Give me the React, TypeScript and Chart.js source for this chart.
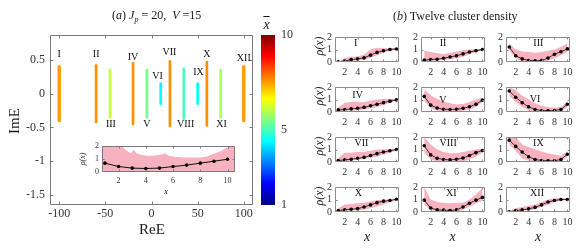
import React, { useEffect, useRef } from 'react';
import { Chart, registerables } from 'chart.js';

Chart.register(...registerables);

const SERIF = "'Liberation Serif', 'Times New Roman', serif";
const PINK = '#F7B1BF';
const AXIS_GRAY = '#7a7a7a';
const SUB_GRAY = '#8c8c8c';
const TICK_TEXT = '#333333';

// ---------------- Panel (a): spectrum clusters ----------------
const clusterNames = ['I', 'II', 'III', 'IV', 'V', 'VI', 'VII', 'VIII', 'IX', 'X', 'XI', 'XII'];
const clusterRe = [-100, -60, -45, -20, -5, 10, 20, 35, 50, 60, 75, 100];
const clusterHalfIm = [0.4, 0.42, 0.35, 0.45, 0.35, 0.15, 0.48, 0.37, 0.15, 0.47, 0.35, 0.4];
const clusterMeanX = [7.5, 7.6, 6.1, 7.6, 5.4, 4.4, 7.6, 5.0, 4.4, 7.6, 5.9, 7.5];
const labelRe = [-100, -60, -44, -20, -5, 6.5, 19.5, 37, 51, 60, 76, 100];
const labelIm = [0.58, 0.58, -0.45, 0.54, -0.45, 0.25, 0.61, -0.45, 0.31, 0.58, -0.45, 0.53];
const mainXTicks = [-100, -50, 0, 50, 100];
const mainYTicks = [0.5, 0, -0.5, -1, -1.5];
const colorbarTicks = [1, 5, 10];

// inset of panel (a)
const sitesX = [1, 2, 3, 4, 5, 6, 7, 8, 9, 10];
const insetRho = [0.68, 0.42, 0.3, 0.27, 0.3, 0.42, 0.53, 0.68, 0.83, 0.98];
const insetBandX = [0.78, 2.2, 2.5, 2.9, 3.1, 3.3, 3.6, 4.0, 4.5, 5.0, 5.4, 5.7, 6.2, 7, 8, 8.5, 9, 9.5, 10, 10.55];
const insetBandUpper = [2.1, 2.1, 1.7, 1.45, 1.7, 1.45, 1.35, 1.25, 1.25, 1.3, 1.45, 1.25, 1.15, 1.12, 1.12, 1.2, 1.4, 1.6, 1.9, 2.1];
const insetXTicks = [2, 4, 6, 8, 10];
const insetYTicks = [0, 1, 2];

// ---------------- Panel (b): twelve cluster densities ----------------
const rhoI = [0.02, 0.08, 0.19, 0.25, 0.33, 0.55, 0.77, 0.9, 1.0, 1.04];
const hiI = [0.05, 0.3, 0.42, 0.45, 0.6, 1.0, 1.15, 1.1, 1.1, 1.1];
const loI = [0, 0.03, 0.08, 0.12, 0.2, 0.35, 0.55, 0.75, 0.9, 0.98];

const rhoII = [0.15, 0.2, 0.22, 0.3, 0.4, 0.5, 0.65, 0.8, 0.9, 1.0];
const hiII = [0.9, 0.8, 0.7, 0.65, 0.72, 0.85, 0.95, 1.0, 1.05, 1.05];
const loII = [0.05, 0.08, 0.12, 0.18, 0.22, 0.3, 0.42, 0.6, 0.8, 0.95];

const rhoIII = [1.2, 0.5, 0.25, 0.12, 0.1, 0.12, 0.32, 0.62, 0.82, 1.05];
const hiIII = [1.5, 1.0, 0.85, 0.8, 0.75, 0.8, 0.9, 1.0, 1.2, 1.5];
const loIII = [0.95, 0.3, 0.05, 0, 0, 0, 0.1, 0.3, 0.55, 0.8];

const rhoIV = [0.17, 0.2, 0.25, 0.3, 0.37, 0.5, 0.62, 0.75, 0.87, 0.97];
const hiIV = [0.35, 0.75, 0.8, 0.8, 0.8, 0.9, 1.0, 1.05, 1.05, 1.05];
const loIV = [0.05, 0.1, 0.12, 0.15, 0.2, 0.3, 0.4, 0.55, 0.75, 0.9];

const rhoV = [1.25, 0.55, 0.32, 0.22, 0.2, 0.22, 0.3, 0.42, 0.62, 0.95];
const hiV = [1.8, 1.35, 1.05, 0.85, 0.7, 0.6, 0.65, 0.8, 1.0, 1.1];
const loV = [0.9, 0.3, 0.1, 0.05, 0.05, 0.05, 0.1, 0.2, 0.4, 0.8];

const rhoVI = [1.68, 1.18, 0.75, 0.42, 0.2, 0.12, 0.1, 0.12, 0.2, 0.62];
const hiVI = [2.0, 1.75, 1.3, 1.0, 0.7, 0.5, 0.4, 0.35, 0.4, 0.85];
const loVI = [1.3, 0.8, 0.4, 0.15, 0.05, 0, 0, 0, 0.05, 0.4];

const rhoVII = [0.12, 0.17, 0.22, 0.3, 0.37, 0.52, 0.67, 0.8, 0.9, 1.0];
const hiVII = [0.3, 0.75, 0.75, 0.8, 0.8, 0.9, 1.0, 1.0, 1.05, 1.05];
const loVII = [0.05, 0.08, 0.12, 0.18, 0.25, 0.35, 0.45, 0.6, 0.75, 0.92];

const rhoVIII = [1.3, 0.57, 0.3, 0.2, 0.17, 0.22, 0.32, 0.52, 0.75, 0.92];
const hiVIII = [2.0, 1.4, 1.0, 0.8, 0.7, 0.7, 0.8, 0.9, 1.0, 1.05];
const loVIII = [0.8, 0.2, 0.05, 0, 0, 0, 0.05, 0.2, 0.45, 0.75];

const rhoIX = [1.75, 1.25, 0.8, 0.42, 0.2, 0.12, 0.1, 0.1, 0.2, 0.62];
const hiIX = [2.0, 2.0, 1.4, 1.2, 1.0, 0.85, 0.7, 0.6, 0.5, 0.85];
const loIX = [1.4, 0.9, 0.3, 0.1, 0, 0, 0, 0, 0.05, 0.4];

const rhoX = [0.12, 0.17, 0.22, 0.27, 0.4, 0.57, 0.75, 0.87, 0.92, 1.02];
const hiX = [0.3, 0.6, 0.65, 0.7, 0.75, 0.85, 0.95, 1.0, 1.0, 1.05];
const loX = [0.05, 0.1, 0.12, 0.15, 0.2, 0.3, 0.45, 0.6, 0.8, 0.95];

const rhoXI = [0.95, 0.32, 0.17, 0.15, 0.12, 0.17, 0.4, 0.7, 0.95, 1.17];
const hiXI = [2.0, 1.0, 0.8, 0.75, 0.7, 0.75, 0.75, 1.0, 1.4, 1.9];
const loXI = [0.6, 0.15, 0.05, 0, 0, 0, 0.2, 0.45, 0.7, 0.9];

const rhoXII = [0.02, 0.12, 0.17, 0.25, 0.37, 0.57, 0.8, 0.92, 1.0, 1.0];
const hiXII = [0.05, 0.3, 0.4, 0.5, 0.6, 0.8, 1.0, 1.1, 1.1, 1.1];
const loXII = [0, 0.05, 0.1, 0.15, 0.25, 0.4, 0.6, 0.8, 0.9, 0.95];

const panelRho = [rhoI, rhoII, rhoIII, rhoIV, rhoV, rhoVI, rhoVII, rhoVIII, rhoIX, rhoX, rhoXI, rhoXII];
const panelHi = [hiI, hiII, hiIII, hiIV, hiV, hiVI, hiVII, hiVIII, hiIX, hiX, hiXI, hiXII];
const panelLo = [loI, loII, loIII, loIV, loV, loVI, loVII, loVIII, loIX, loX, loXI, loXII];
const panelLabelX = [3.7, 3.9, 5.5, 4.0, 3.9, 5.0, 4.6, 4.7, 5.5, 4.1, 5.2, 5.3];
const panelLabelY = [1.5, 1.5, 1.5, 1.3, 0.93, 1.05, 1.5, 1.5, 1.5, 1.5, 1.5, 1.5];
const subXTicks = [2, 4, 6, 8, 10];
const subYTicks = [0, 1, 2];

// layout of panel (b)
const colLeft = [335, 420.5, 506];
const rowTop = [34, 84, 134, 184];
const SUB_W = 64;
const SUB_H = 28;

// ---------------- helpers ----------------
function clamp01(v: number) {
  return Math.max(0, Math.min(1, v));
}
function jet(v: number, min = 1, max = 10) {
  const t = clamp01((v - min) / (max - min));
  const r = clamp01(1.5 - Math.abs(4 * t - 3));
  const g = clamp01(1.5 - Math.abs(4 * t - 2));
  const b = clamp01(1.5 - Math.abs(4 * t - 1));
  return `rgb(${Math.round(r * 255)},${Math.round(g * 255)},${Math.round(b * 255)})`;
}

function boxPlugin(color: string, tickLen: number) {
  return {
    id: 'matlabBox',
    afterDatasetsDraw(chart: any) {
      const { ctx, chartArea: a, scales } = chart;
      const xs = scales.x;
      const ys = scales.y;
      const l = Math.round(a.left) + 0.5;
      const r = Math.round(a.right) - 0.5;
      const t = Math.round(a.top) + 0.5;
      const b = Math.round(a.bottom) - 0.5;
      ctx.save();
      ctx.strokeStyle = color;
      ctx.lineWidth = 1;
      ctx.beginPath();
      ctx.rect(l, t, r - l, b - t);
      if (tickLen > 0) {
        xs.ticks.forEach((tk: any) => {
          const p = Math.round(xs.getPixelForValue(tk.value)) + 0.5;
          if (p <= l + 1 || p >= r - 1) return;
          ctx.moveTo(p, b);
          ctx.lineTo(p, b - tickLen);
          ctx.moveTo(p, t);
          ctx.lineTo(p, t + tickLen);
        });
        ys.ticks.forEach((tk: any) => {
          const p = Math.round(ys.getPixelForValue(tk.value)) + 0.5;
          if (p <= t + 1 || p >= b - 1) return;
          ctx.moveTo(l, p);
          ctx.lineTo(l + tickLen, p);
          ctx.moveTo(r, p);
          ctx.lineTo(r - tickLen, p);
        });
      }
      ctx.stroke();
      ctx.restore();
    },
  };
}

function labelPlugin(items: { text: string; x: number; y: number }[], font: string, color: string) {
  return {
    id: 'textLabels',
    afterDatasetsDraw(chart: any) {
      const { ctx, scales } = chart;
      ctx.save();
      ctx.font = font;
      ctx.fillStyle = color;
      ctx.textAlign = 'center';
      ctx.textBaseline = 'middle';
      items.forEach((it) => {
        ctx.fillText(it.text, scales.x.getPixelForValue(it.x), scales.y.getPixelForValue(it.y));
      });
      ctx.restore();
    },
  };
}

function fixedTicks(values: number[]) {
  return (scale: any) => {
    scale.ticks = values.map((v) => ({ value: v }));
  };
}

function linearAxis(opts: {
  min: number;
  max: number;
  ticks: number[];
  size: number;
  fontSize: number;
  padding: number;
  horizontal: boolean;
  position?: string;
}) {
  return {
    type: 'linear',
    position: opts.position,
    min: opts.min,
    max: opts.max,
    grid: { display: false, drawTicks: false },
    border: { display: false },
    afterBuildTicks: fixedTicks(opts.ticks),
    afterFit: (s: any) => {
      if (opts.horizontal) s.height = opts.size;
      else s.width = opts.size;
    },
    ticks: {
      autoSkip: false,
      maxRotation: 0,
      minRotation: 0,
      padding: opts.padding,
      color: TICK_TEXT,
      font: { family: SERIF, size: opts.fontSize },
      callback: (v: any) => String(v),
    },
  };
}

const baseOptions = {
  animation: false,
  responsive: false,
  maintainAspectRatio: false,
  events: [],
  plugins: { legend: { display: false }, tooltip: { enabled: false }, title: { display: false } },
};

// ---------------- chart configs ----------------
function mainConfig() {
  return {
    type: 'line',
    data: {
      datasets: clusterRe.map((re, i) => ({
        data: [
          { x: re, y: -clusterHalfIm[i] },
          { x: re, y: clusterHalfIm[i] },
        ],
        borderColor: jet(clusterMeanX[i]),
        borderWidth: i === 0 || i === 11 ? 3.4 : 2.7,
        borderCapStyle: 'round',
        pointRadius: 0,
        fill: false,
      })),
    },
    options: {
      ...baseOptions,
      layout: { padding: { top: 35, right: 7, left: 0, bottom: 0 } },
      scales: {
        x: linearAxis({ min: -110, max: 110, ticks: mainXTicks, size: 43, fontSize: 12, padding: 2, horizontal: true }),
        y: linearAxis({ min: -1.65, max: 0.87, ticks: mainYTicks, size: 50, fontSize: 12, padding: 5, horizontal: false }),
      },
    },
    plugins: [
      boxPlugin(AXIS_GRAY, 3),
      labelPlugin(
        clusterNames.map((n, i) => ({ text: n, x: labelRe[i], y: labelIm[i] })),
        `10px ${SERIF}`,
        '#111'
      ),
    ],
  };
}

function insetConfig() {
  return {
    type: 'line',
    data: {
      datasets: [
        {
          data: sitesX.map((x, i) => ({ x, y: insetRho[i] })),
          borderColor: '#111',
          borderWidth: 1,
          pointRadius: 1.8,
          pointBackgroundColor: '#000',
          pointBorderWidth: 0,
          fill: false,
          order: 0,
        },
        {
          data: insetBandX.map((x, i) => ({ x, y: insetBandUpper[i] })),
          borderWidth: 0,
          pointRadius: 0,
          backgroundColor: PINK,
          fill: 'origin',
          order: 1,
        },
      ],
    },
    options: {
      ...baseOptions,
      layout: { padding: { top: 8, right: 10, left: 0, bottom: 0 } },
      scales: {
        x: linearAxis({ min: 0.78, max: 10.55, ticks: insetXTicks, size: 26, fontSize: 8, padding: 4, horizontal: true }),
        y: linearAxis({ min: 0, max: 2, ticks: insetYTicks, size: 24, fontSize: 8, padding: 3, horizontal: false }),
      },
    },
    plugins: [boxPlugin(AXIS_GRAY, 2)],
  };
}

function colorbarConfig() {
  return {
    type: 'bar',
    data: {
      labels: ['x'],
      datasets: [
        {
          data: [[1, 10]],
          borderWidth: 0,
          barPercentage: 1,
          categoryPercentage: 1,
          backgroundColor: (ctx: any) => {
            const ch = ctx.chart;
            const a = ch.chartArea;
            if (!a) return '#000';
            const g = ch.ctx.createLinearGradient(0, a.bottom, 0, a.top);
            for (let i = 0; i <= 32; i++) g.addColorStop(i / 32, jet(1 + (9 * i) / 32));
            return g;
          },
        },
      ],
    },
    options: {
      ...baseOptions,
      layout: { padding: { top: 15, bottom: 15, left: 6, right: 0 } },
      scales: {
        x: { display: false },
        y: linearAxis({ min: 1, max: 10, ticks: colorbarTicks, size: 30, fontSize: 12, padding: 6, horizontal: false, position: 'right' }),
      },
    },
  };
}

function subConfig(k: number) {
  return {
    type: 'line',
    data: {
      datasets: [
        {
          data: sitesX.map((x, i) => ({ x, y: panelLo[k][i] })),
          borderWidth: 0,
          pointRadius: 0,
          fill: false,
          order: 2,
        },
        {
          data: sitesX.map((x, i) => ({ x, y: panelHi[k][i] })),
          borderWidth: 0,
          pointRadius: 0,
          backgroundColor: PINK,
          fill: '-1',
          order: 1,
        },
        {
          data: sitesX.map((x, i) => ({ x, y: panelRho[k][i] })),
          borderColor: '#111',
          borderWidth: 0.8,
          pointRadius: 1.8,
          pointBackgroundColor: '#000',
          pointBorderWidth: 0,
          fill: false,
          order: 0,
        },
      ],
    },
    options: {
      ...baseOptions,
      layout: { padding: { top: 6, right: 8, left: 0, bottom: 0 } },
      scales: {
        x: linearAxis({ min: 0.5, max: 10.4, ticks: subXTicks, size: 16, fontSize: 10, padding: 4, horizontal: true }),
        y: linearAxis({ min: 0, max: 2, ticks: subYTicks, size: 20, fontSize: 10, padding: 3, horizontal: false }),
      },
    },
    plugins: [
      boxPlugin(SUB_GRAY, 2),
      labelPlugin([{ text: clusterNames[k], x: panelLabelX[k], y: panelLabelY[k] }], `10px ${SERIF}`, '#111'),
    ],
  };
}

// ---------------- components ----------------
function ChartCanvas(props: { left: number; top: number; width: number; height: number; make: () => any }) {
  const ref = useRef<HTMLCanvasElement | null>(null);
  useEffect(() => {
    const chart = new Chart(ref.current as HTMLCanvasElement, props.make());
    return () => chart.destroy();
  }, []);
  return (
    <canvas
      ref={ref}
      width={props.width}
      height={props.height}
      style={{ position: 'absolute', left: props.left, top: props.top, width: props.width, height: props.height }}
    />
  );
}

function Txt(props: { x: number; y: number; size: number; rotate?: boolean; italic?: boolean; children: any }) {
  return (
    <div
      style={{
        position: 'absolute',
        left: props.x,
        top: props.y,
        transform: `translate(-50%, -50%)${props.rotate ? ' rotate(-90deg)' : ''}`,
        fontSize: props.size,
        fontStyle: props.italic ? 'italic' : 'normal',
        lineHeight: 1,
        whiteSpace: 'nowrap',
        color: '#1a1a1a',
      }}
    >
      {props.children}
    </div>
  );
}

export default function App() {
  const subs = [];
  for (let k = 0; k < 12; k++) {
    const r = Math.floor(k / 3);
    const c = k % 3;
    subs.push(
      <ChartCanvas
        key={k}
        left={colLeft[c] - 20}
        top={rowTop[r] - 6}
        width={SUB_W + 28}
        height={SUB_H + 22}
        make={() => subConfig(k)}
      />
    );
  }
  return (
    <div
      style={{
        position: 'fixed',
        left: 0,
        top: 0,
        width: 581,
        height: 248,
        background: '#fff',
        overflow: 'hidden',
        fontFamily: SERIF,
      }}
    >
      <ChartCanvas left={0} top={0} width={260} height={248} make={mainConfig} />
      <ChartCanvas left={78} top={138} width={167} height={60} make={insetConfig} />
      <ChartCanvas left={255} top={20} width={50} height={200} make={colorbarConfig} />
      {subs}

      <Txt x={156.7} y={16} size={12}>
        (<i>a</i>) <i>J</i>
        <sub style={{ fontSize: 8, fontStyle: 'italic', verticalAlign: '-3px' }}>p</sub> = 20,&nbsp; <i>V</i> =15
      </Txt>
      <Txt x={152} y={229} size={15}>ReE</Txt>
      <Txt x={13.5} y={121} size={15} rotate>ImE</Txt>
      <Txt x={266.5} y={25} size={14} italic>
        <span style={{ textDecoration: 'overline' }}>x</span>
      </Txt>
      <Txt x={83.3} y={158.5} size={8} rotate italic>ρ(x)</Txt>
      <Txt x={166} y={191.5} size={8} italic>x</Txt>

      <Txt x={455.3} y={16} size={12}>
        (<i>b</i>) Twelve cluster density
      </Txt>
      {rowTop.map((t, i) => (
        <Txt key={'r' + i} x={318.7} y={t + 12} size={12} rotate italic>
          ρ(x)
        </Txt>
      ))}
      {colLeft.map((l, i) => (
        <Txt key={'c' + i} x={l + SUB_W / 2} y={237.3} size={14} italic>
          x
        </Txt>
      ))}
    </div>
  );
}
